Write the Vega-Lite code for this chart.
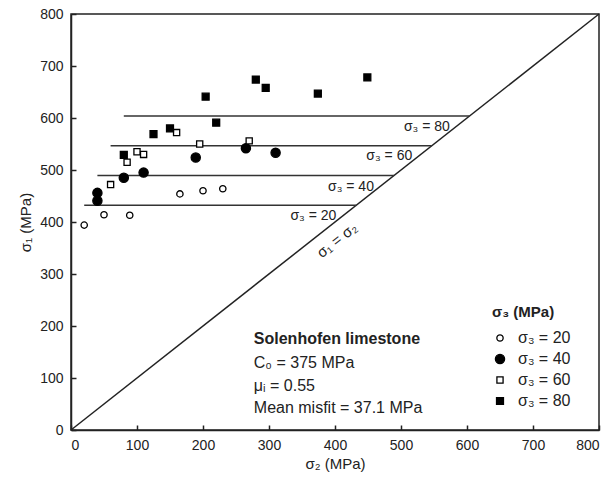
{
  "$schema": "https://vega.github.io/schema/vega-lite/v6.json",
  "width": 528,
  "height": 416,
  "autosize": {"type": "none"},
  "padding": {"left": 71, "top": 14, "right": 7, "bottom": 49},
  "background": "white",
  "config": {
    "font": "Liberation Sans",
    "view": {"stroke": "#222", "strokeWidth": 1.5},
    "axis": {
      "grid": false,
      "domainColor": "#222",
      "domainWidth": 1.5,
      "tickColor": "#222",
      "tickWidth": 1.5,
      "tickSize": -5,
      "labelPadding": 13,
      "labelFontSize": 14,
      "labelColor": "#222",
      "titleFontSize": 15,
      "titleFontWeight": "normal",
      "titleColor": "#222"
    }
  },
  "layer": [
    {
      "data": {"values": [{"s2": 0, "s1": 0, "e": 800}]},
      "mark": {"type": "rule", "color": "#222", "strokeWidth": 1.5},
      "encoding": {
        "x": {"field": "s2", "type": "quantitative", "scale": {"domain": [0, 800], "nice": false}, "axis": {"values": [0, 100, 200, 300, 400, 500, 600, 700, 800], "title": "σ₂ (MPa)", "titlePadding": 4}},
        "y": {"field": "s1", "type": "quantitative", "scale": {"domain": [0, 800], "nice": false}, "axis": {"values": [0, 100, 200, 300, 400, 500, 600, 700, 800], "title": "σ₁ (MPa)", "titlePadding": 6}},
        "x2": {"field": "e"},
        "y2": {"field": "e"}
      }
    },
    {
      "data": {"values": [
        {"label": "σ₃ = 20", "s2": 20, "end": 432.2, "s1": 432.2, "lx": 402, "ly": 411},
        {"label": "σ₃ = 40", "s2": 40, "end": 489.4, "s1": 489.4, "lx": 459, "ly": 468},
        {"label": "σ₃ = 60", "s2": 60, "end": 546.6, "s1": 546.6, "lx": 517, "ly": 526},
        {"label": "σ₃ = 80", "s2": 80, "end": 603.8, "s1": 603.8, "lx": 574, "ly": 583}
      ]},
      "layer": [
        {
          "mark": {"type": "rule", "color": "#333", "strokeWidth": 1.5},
          "encoding": {
            "x": {"field": "s2", "type": "quantitative"},
            "x2": {"field": "end"},
            "y": {"field": "s1", "type": "quantitative"}
          }
        },
        {
          "mark": {"type": "text", "align": "right", "baseline": "middle", "fontSize": 14, "color": "#222"},
          "encoding": {
            "x": {"field": "lx", "type": "quantitative"},
            "y": {"field": "ly", "type": "quantitative"},
            "text": {"field": "label"}
          }
        }
      ]
    },
    {
      "data": {"values": [{"note": "σ₁ = σ₂"}]},
      "mark": {"type": "text", "align": "center", "baseline": "middle", "fontSize": 15, "angle": -38.2, "color": "#222"},
      "encoding": {"x": {"datum": 403}, "y": {"datum": 365}, "text": {"field": "note"}}
    },
    {
      "data": {"values": [{"note": "Solenhofen limestone"}]},
      "mark": {"type": "text", "align": "left", "baseline": "middle", "fontSize": 16, "fontWeight": "bold", "color": "#222"},
      "encoding": {"x": {"datum": 277}, "y": {"datum": 175}, "text": {"field": "note"}}
    },
    {
      "data": {"values": [{"note": "C₀ = 375 MPa"}]},
      "mark": {"type": "text", "align": "left", "baseline": "middle", "fontSize": 16, "color": "#222"},
      "encoding": {"x": {"datum": 277}, "y": {"datum": 129}, "text": {"field": "note"}}
    },
    {
      "data": {"values": [{"note": "μᵢ = 0.55"}]},
      "mark": {"type": "text", "align": "left", "baseline": "middle", "fontSize": 16, "color": "#222"},
      "encoding": {"x": {"datum": 277}, "y": {"datum": 85}, "text": {"field": "note"}}
    },
    {
      "data": {"values": [{"note": "Mean misfit = 37.1 MPa"}]},
      "mark": {"type": "text", "align": "left", "baseline": "middle", "fontSize": 16, "color": "#222"},
      "encoding": {"x": {"datum": 277}, "y": {"datum": 42}, "text": {"field": "note"}}
    },
    {
      "data": {"values": [
        {"series": "σ₃ = 20", "s2": 20, "s1": 394},
        {"series": "σ₃ = 20", "s2": 50, "s1": 414},
        {"series": "σ₃ = 20", "s2": 89, "s1": 413},
        {"series": "σ₃ = 20", "s2": 165, "s1": 454},
        {"series": "σ₃ = 20", "s2": 200, "s1": 460},
        {"series": "σ₃ = 20", "s2": 230, "s1": 464},
        {"series": "σ₃ = 40", "s2": 40, "s1": 441},
        {"series": "σ₃ = 40", "s2": 40, "s1": 456},
        {"series": "σ₃ = 40", "s2": 80, "s1": 485},
        {"series": "σ₃ = 40", "s2": 110, "s1": 495},
        {"series": "σ₃ = 40", "s2": 189, "s1": 524},
        {"series": "σ₃ = 40", "s2": 265, "s1": 542},
        {"series": "σ₃ = 40", "s2": 310, "s1": 533},
        {"series": "σ₃ = 60", "s2": 60, "s1": 472},
        {"series": "σ₃ = 60", "s2": 85, "s1": 515},
        {"series": "σ₃ = 60", "s2": 100, "s1": 535},
        {"series": "σ₃ = 60", "s2": 110, "s1": 530},
        {"series": "σ₃ = 60", "s2": 160, "s1": 572},
        {"series": "σ₃ = 60", "s2": 195, "s1": 550},
        {"series": "σ₃ = 60", "s2": 270, "s1": 556},
        {"series": "σ₃ = 80", "s2": 80, "s1": 529},
        {"series": "σ₃ = 80", "s2": 125, "s1": 569},
        {"series": "σ₃ = 80", "s2": 150, "s1": 580},
        {"series": "σ₃ = 80", "s2": 204, "s1": 641},
        {"series": "σ₃ = 80", "s2": 220, "s1": 591},
        {"series": "σ₃ = 80", "s2": 280, "s1": 674},
        {"series": "σ₃ = 80", "s2": 295, "s1": 658},
        {"series": "σ₃ = 80", "s2": 374, "s1": 647},
        {"series": "σ₃ = 80", "s2": 449, "s1": 678}
      ]},
      "mark": {"type": "point", "stroke": "#000", "strokeWidth": 1.3, "opacity": 1, "fillOpacity": 1},
      "encoding": {
        "x": {"field": "s2", "type": "quantitative"},
        "y": {"field": "s1", "type": "quantitative"},
        "shape": {"field": "series", "type": "nominal", "scale": {"domain": ["σ₃ = 20", "σ₃ = 40", "σ₃ = 60", "σ₃ = 80"], "range": ["circle", "circle", "square", "square"]}, "legend": {"orient": "none", "legendX": 421, "legendY": 291, "title": "σ₃ (MPa)", "titleFontSize": 15, "titleFontWeight": "bold", "titleColor": "#222", "titlePadding": 10, "labelFontSize": 16, "labelColor": "#222", "labelOffset": 10, "rowPadding": 5, "symbolStrokeColor": "#000", "symbolStrokeWidth": 1.3}},
        "fill": {"field": "series", "type": "nominal", "scale": {"domain": ["σ₃ = 20", "σ₃ = 40", "σ₃ = 60", "σ₃ = 80"], "range": ["#ffffff", "#000000", "#ffffff", "#000000"]}},
        "size": {"field": "series", "type": "nominal", "scale": {"type": "ordinal", "domain": ["σ₃ = 20", "σ₃ = 40", "σ₃ = 60", "σ₃ = 80"], "range": [40, 85, 38, 48]}}
      }
    }
  ]
}
